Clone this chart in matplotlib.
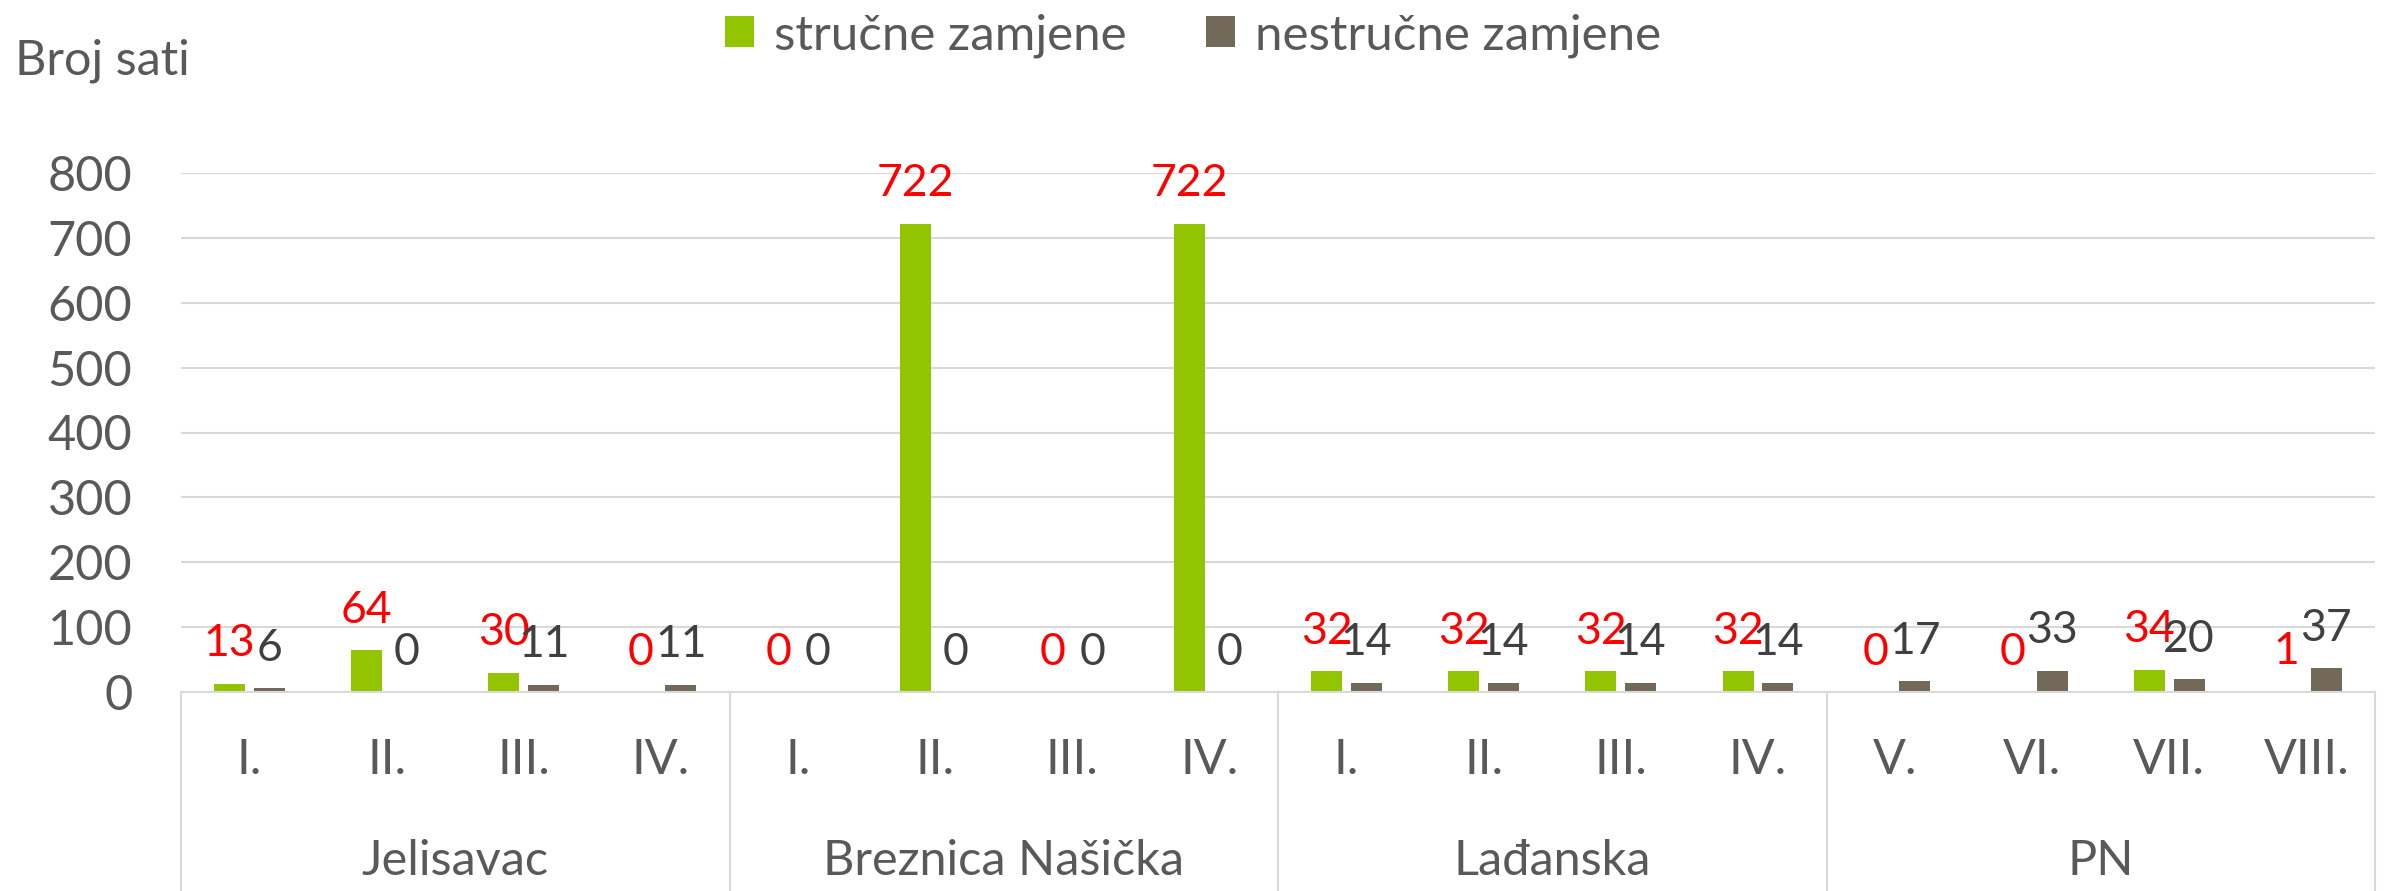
import matplotlib
matplotlib.use("Agg")
import matplotlib.pyplot as plt
from matplotlib.lines import Line2D
import numpy as np

plt.rcParams['font.family'] = ['Lato', 'DejaVu Sans']

groups = ["Jelisavac", "Breznica Našička", "Lađanska", "PN"]
categories = ["I.", "II.", "III.", "IV.",
              "I.", "II.", "III.", "IV.",
              "I.", "II.", "III.", "IV.",
              "V.", "VI.", "VII.", "VIII."]
strucne = [13, 64, 30, 0, 0, 722, 0, 722, 32, 32, 32, 32, 0, 0, 34, 1]
nestrucne = [6, 0, 11, 11, 0, 0, 0, 0, 14, 14, 14, 14, 17, 33, 20, 37]
series_names = ["stručne zamjene", "nestručne zamjene"]
yticks = [0, 100, 200, 300, 400, 500, 600, 700, 800]

GREEN = "#92C400"
GRAY = "#736959"
W, H = 2386, 891
fig = plt.figure(figsize=(W / 100, H / 100), dpi=100)
ax_left, ax_right, ax_top, ax_bot = 181, 2375, 173, 692
ax = fig.add_axes([ax_left / W, (H - ax_bot) / H, (ax_right - ax_left) / W, (ax_bot - ax_top) / H])

x = np.arange(len(categories))
bw = 0.226
off = 0.145
b1 = ax.bar(x - off, strucne, bw, color=GREEN, label=series_names[0], zorder=3)
b2 = ax.bar(x + off, nestrucne, bw, color=GRAY, label=series_names[1], zorder=3)

for rect, v in zip(b1, strucne):
    ax.annotate(str(v), (rect.get_x() + rect.get_width() / 2, v), xytext=(0, 14),
                textcoords="offset points", ha="center", va="bottom",
                color="#FF0000", fontsize=32, zorder=5, annotation_clip=False)
for rect, v in zip(b2, nestrucne):
    ax.annotate(str(v), (rect.get_x() + rect.get_width() / 2, v), xytext=(0, 14),
                textcoords="offset points", ha="center", va="bottom",
                color="#404040", fontsize=32, zorder=5, annotation_clip=False)

ax.set_xlim(-0.5, len(categories) - 0.5)
ax.set_ylim(0, 800)
ax.set_yticks(yticks)
ax.set_yticklabels([str(t) for t in yticks])
ax.tick_params(axis="y", length=0, pad=35, labelsize=35, labelcolor="#595959")
ax.set_xticks([])
ax.grid(axis="y", color="#D9D9D9", linewidth=1.5, zorder=0)
for s in ["top", "right", "left"]:
    ax.spines[s].set_visible(False)
ax.spines["bottom"].set_color("#D9D9D9")
ax.spines["bottom"].set_linewidth(1.5)
ax.spines["bottom"].set_zorder(4)

hpx = ax_bot - ax_top
tr = ax.get_xaxis_transform()
y_cat = (ax_bot - 760) / hpx
y_grp = (ax_bot - 861) / hpx
y_end = (ax_bot - H - 5) / hpx
for i, c in enumerate(categories):
    ax.text(i, y_cat, c, transform=tr, ha="center", va="center", fontsize=35, color="#595959")
n_per = len(categories) // len(groups)
for g, name in enumerate(groups):
    ax.text(g * n_per + (n_per - 1) / 2, y_grp, name, transform=tr, ha="center", va="center",
            fontsize=35, color="#595959")
for b in range(len(groups) + 1):
    xb = b * n_per - 0.5
    ax.add_line(Line2D([xb, xb], [0, y_end], transform=tr, color="#D9D9D9", linewidth=1.5, clip_on=False))

fig.text(15 / W, 1 - 61 / H, "Broj sati", ha="left", va="center", fontsize=35, color="#595959")

leg = fig.legend(handles=[b1, b2], labels=series_names, loc="upper center", bbox_to_anchor=(0.5, 1.035),
                 ncol=2, frameon=False, fontsize=35.5, handlelength=0.6, handleheight=0.6,
                 handletextpad=0.4, columnspacing=1.6, labelcolor="#595959")

fig.savefig("out.png", dpi=100)
